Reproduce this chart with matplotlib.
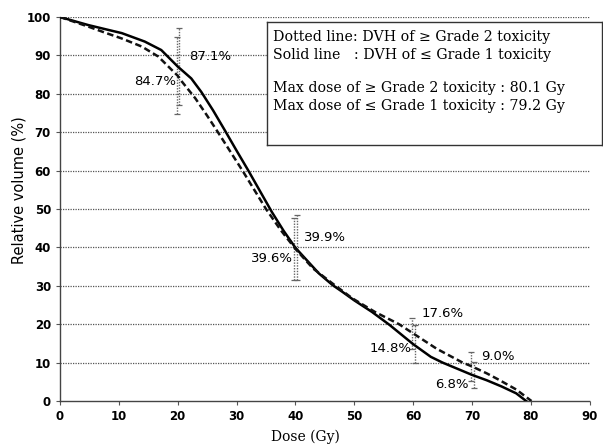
import matplotlib
matplotlib.use('Agg')
import matplotlib.pyplot as plt

# DVH curves
# solid line: <= Grade 1 toxicity
dose_g1 = [0, 2.5, 4.8, 7.5, 10.5, 14.4, 17.2, 20, 22.3, 24, 26, 28, 30, 32, 34,
           36, 38, 40, 44, 46.3, 48, 50, 53, 56, 60, 63, 65, 67.5, 70, 72.5, 75, 77.5, 79.2]
vol_g1 = [100, 98.9, 97.9, 96.9, 95.8, 93.6, 91.4, 87.1, 84.0, 80.5, 75.7, 70.5, 65.2, 60, 54.6,
          49.2, 44.3, 39.9, 33.2, 30.2, 28.4, 26.2, 23.2, 19.8, 14.8, 11.5, 10, 8.4, 6.8, 5.4, 3.8, 2.0, 0]
# dashed line: >= Grade 2 toxicity
dose_g2 = [0, 2.5, 4.8, 7.5, 10.5, 13.9, 16.7, 19, 20, 20.7, 23, 25, 27, 29, 31, 33,
           35, 37.5, 40, 43, 46.3, 49.7, 53.5, 57.6, 60, 64, 68.4, 70, 72.5, 74.6, 77.5, 80.1]
vol_g2 = [100, 98.7, 97.5, 96.0, 94.4, 92.3, 89.7, 86.2, 84.7, 83.2, 78.8, 74.3, 69.6, 64.8, 60, 55,
          50, 44.5, 39.6, 34.5, 30.6, 26.7, 23.2, 20, 17.6, 13.6, 10, 9.0, 7.2, 5.5, 3.0, 0]

# mean values with error bars at selected doses
pt_dose = [20, 40, 60, 70]
pt_g1 = [87.1, 39.9, 14.8, 6.8]
err_g1 = [10.0, 8.5, 5.0, 3.4]
pt_g2 = [84.7, 39.6, 17.6, 9.0]
err_g2 = [10.0, 8.0, 4.0, 3.8]

lbl_g1 = ['87.1%', '39.9%', '14.8%', '6.8%']
lbl_g2 = ['84.7%', '39.6%', '17.6%', '9.0%']

xticks = list(range(0, 91, 10))
yticks = list(range(0, 101, 10))

fig = plt.figure(figsize=(6.03, 4.46), dpi=100)
ax = fig.add_axes([0.0995, 0.1009, 0.8785, 0.8610])

ax.set_xlim(0, 90)
ax.set_ylim(0, 100)
for y in yticks[1:]:
    ax.axhline(y, color='#555555', linestyle=(0, (1, 1)), linewidth=0.9, zorder=0)

for s in ['top', 'right']:
    ax.spines[s].set_visible(False)
for s in ['left', 'bottom']:
    ax.spines[s].set_linestyle((0, (1, 1)))
    ax.spines[s].set_color('#444444')
    ax.spines[s].set_linewidth(1.0)

# error bars (grey dotted)
for xs, ys, es, dx in [(pt_dose, pt_g1, err_g1, 0.3), (pt_dose, pt_g2, err_g2, -0.2)]:
    eb = ax.errorbar([x + dx for x in xs], ys, yerr=es, fmt='none', ecolor='#666666',
                     elinewidth=1.0, capsize=2.5, capthick=0.9, zorder=2)
    eb[2][0].set_linestyle((0, (1, 1)))

ax.plot(dose_g1, vol_g1, color='black', linewidth=1.8, zorder=3)
ax.plot(dose_g2, vol_g2, color='#111111', linewidth=1.8, linestyle=(0, (2.6, 1.4)), zorder=3)

# value labels
g1_pos = [(22.0, 89.6, 'left'), (41.5, 42.7, 'left'), (59.8, 13.8, 'right'), (69.5, 4.2, 'right')]
g2_pos = [(19.7, 83.3, 'right'), (39.5, 37.2, 'right'), (61.4, 22.9, 'left'), (71.5, 11.5, 'left')]
for (x, y, ha), t in zip(g1_pos, lbl_g1):
    ax.text(x, y, t, ha=ha, va='center', fontsize=9.5, family='DejaVu Sans', zorder=4)
for (x, y, ha), t in zip(g2_pos, lbl_g2):
    ax.text(x, y, t, ha=ha, va='center', fontsize=9.5, family='DejaVu Sans', zorder=4)

ax.set_xticks(xticks)
ax.set_yticks(yticks)
ax.tick_params(axis='both', labelsize=8.5, length=3, width=0.8, color='#555555')
for lab in ax.get_xticklabels() + ax.get_yticklabels():
    lab.set_fontweight('bold')
ax.set_ylabel('Relative volume (%)', fontsize=10.5, family='DejaVu Sans')
ax.yaxis.set_label_coords(-0.064, 0.55)
ax.set_xlabel('Dose (Gy)', fontsize=10, family='DejaVu Serif')
ax.xaxis.set_label_coords(0.464, -0.075)

# legend box
box = fig.add_axes([0.443, 0.675, 0.555, 0.276])
box.set_xticks([])
box.set_yticks([])
box.set_facecolor('white')
for s in box.spines.values():
    s.set_linewidth(1.0)
    s.set_color('#333333')
lines = ['Dotted line: DVH of \u2265 Grade 2 toxicity',
         'Solid line   : DVH of \u2264 Grade 1 toxicity',
         '',
         'Max dose of \u2265 Grade 2 toxicity : 80.1 Gy',
         'Max dose of \u2264 Grade 1 toxicity : 79.2 Gy']
ys_box = [0.878, 0.732, 0.6, 0.463, 0.317]
for yb, t in zip(ys_box, lines):
    box.text(0.018, yb, t, transform=box.transAxes, ha='left', va='center',
             fontsize=10.2, family='DejaVu Serif')

fig.savefig('out.png', dpi=100)
